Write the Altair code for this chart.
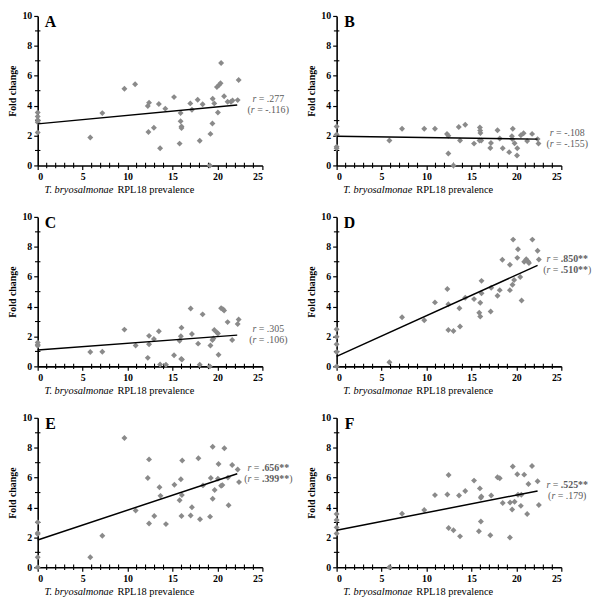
import altair as alt
import pandas as pd

FONT = "'Liberation Serif', 'Times New Roman', 'DejaVu Serif', serif"
PT_COLOR = "#8a8a8a"
TXT_COLOR = "#5c5c5c"

letters = ["A", "B", "C", "D", "E", "F"]

xA = [0, 0, 0, 0, 0, 5.85, 7.19, 9.65, 10.84, 12.25, 12.39, 12.32, 12.93, 13.48, 13.62, 14.2, 15.17, 15.79, 15.9, 15.9,
      16.0, 16.0, 16.98, 17.16, 17.8, 18.03, 18.35, 19.22, 19.15, 19.44, 19.47, 19.65, 19.94, 20.05, 20.2, 20.34,
      20.41, 20.74, 21.13, 21.5, 21.68, 22.25, 22.36]
yA = [3.54, 3.28, 3.04, 2.89, 2.20, 1.87, 3.5, 5.13, 5.43, 3.98, 4.2, 2.24, 2.52, 4.11, 1.15, 3.8, 4.57, 1.46, 3.5, 2.96,
      2.61, 2.5, 4.15, 3.72, 4.39, 1.65, 4.09, 2.11, 0, 2.8, 4.46, 4.15, 5.24, 3.54, 5.39, 5.5,
      6.85, 4.63, 4.26, 4.26, 4.35, 4.37, 5.72]

xB = [0, 0, 0, 0, 5.87, 7.28, 9.75, 10.94, 12.28, 12.43, 12.43, 13.0, 13.59, 13.73, 14.31, 15.29, 15.94, 15.97, 16.0,
      15.9, 16.09, 17.1, 17.17, 17.9, 18.15, 18.48, 19.2, 19.6, 19.5, 19.55, 19.8, 20.1, 20.07, 20.5, 20.8, 21.2,
      21.75, 22.36, 22.46]
yB = [2.6, 2.07, 1.25, 1.15, 1.67, 2.46, 2.46, 2.46, 2.11, 1.98, 0.80, 0, 2.57, 1.67, 2.72, 1.46, 2.54, 2.33, 2.17,
      1.67, 1.67, 1.17, 1.5, 2.35, 1.8, 1.15, 0.89, 2.46, 1.96, 1.76, 1.48, 1.15, 0.67, 2.02, 2.15, 1.63,
      2.11, 1.76, 1.46]

xC = [0, 0, 0, 5.85, 7.19, 9.65, 10.9, 12.25, 12.39, 12.39, 12.93, 13.48, 13.62, 14.27, 15.17, 15.79, 15.93, 16.0,
      15.97, 16.05, 17.02, 17.16, 17.85, 18.03, 18.35, 19.15, 19.22, 19.44, 19.55, 19.65, 19.94, 20.05, 20.12,
      20.41, 20.6, 20.74, 21.13, 21.64, 22.25, 22.36]
yC = [1.6, 1.45, 1.38, 0.96, 0.98, 2.46, 1.39, 0.57, 2.04, 1.48, 1.83, 2.35, 0.13, 0.11, 0.74, 1.72, 2.02, 2.59,
      0.5, 0.46, 3.87, 2.17, 1.52, 0.11, 3.48, 0, 1.39, 1.76, 1.87, 2.43, 2.26, 2.2, 0.78,
      3.89, 3.83, 3.74, 2.96, 1.76, 2.83, 3.13]

xD = [0, 0, 0, 0, 0, 5.87, 7.28, 9.75, 10.94, 12.32, 12.43, 12.43, 13.0, 13.66, 13.73, 14.31, 15.29, 15.87, 15.98,
      15.98, 16.12, 16.12, 17.14, 17.2, 17.9, 18.15, 18.44, 19.28, 19.28, 19.57, 19.64, 19.75, 20.1, 20.18, 20.43,
      20.58, 20.87, 21.1, 21.3, 21.4, 21.78, 22.36, 22.5]
yD = [2.48, 1.98, 1.48, 0.96, 0, 0.28, 3.28, 3.09, 4.28, 5.17, 4.15, 2.43, 2.37, 3.89, 2.67, 4.59, 4.5, 3.59, 3.33,
      4.26, 4.89, 5.72, 3.67, 5.26, 4.72, 5.1, 7.13, 6.8, 5.1, 5.46, 8.48, 5.78, 7.26, 7.83, 5.98,
      4.41, 7.0, 7.17, 7.02, 6.91, 8.48, 7.74, 7.15]

xE = [0, 0, 0, 0, 0, 5.85, 7.19, 9.65, 10.9, 12.25, 12.39, 12.39, 12.97, 13.55, 13.66, 14.27, 15.21, 15.79, 15.93,
      16.04, 16.0, 16.08, 17.02, 17.16, 17.88, 18.06, 18.39, 19.18, 19.26, 19.47, 19.47, 19.69, 20.05, 20.12, 20.41,
      20.55, 20.77, 21.17, 21.24, 21.64, 22.25, 22.4]
yE = [3.02, 2.3, 2.22, 0.67, 0, 0.67, 2.11, 8.65, 3.8, 5.98, 7.22, 2.93, 3.43, 5.35, 4.78, 2.89, 5.52, 4.48, 5.89,
      4.83, 3.43, 7.15, 3.46, 4.02, 7.3, 3.22, 5.48, 3.39, 5.98, 8.07, 4.59, 5.17, 5.93, 6.91, 5.46,
      5.5, 7.96, 6.0, 4.15, 6.85, 6.54, 5.7]

xF = [0, 0, 0, 0, 5.87, 7.28, 9.75, 10.94, 12.32, 12.46, 12.46, 13.0, 13.62, 13.73, 14.31, 15.29, 15.83, 15.94, 16.05,
      16.1, 16.05, 17.1, 17.2, 17.9, 18.15, 18.48, 19.28, 19.3, 19.53, 19.6, 19.8, 20.1, 20.18, 20.5, 20.55, 20.87,
      21.2, 21.34, 21.74, 22.36, 22.5]
yF = [3.57, 3.17, 2.67, 2.26, 0, 3.59, 3.83, 4.83, 4.87, 6.17, 2.63, 2.48, 4.8, 2.07, 5.1, 5.8, 2.41, 5.28, 4.65,
      4.74, 3.07, 2.15, 4.8, 6.02, 5.96, 4.3, 2.0, 4.33, 3.87, 6.74, 4.39, 6.22, 4.85, 4.11, 4.85, 6.2,
      3.57, 5.57, 6.78, 5.76, 4.17]

xs_all = [xA, xB, xC, xD, xE, xF]
ys_all = [yA, yB, yC, yD, yE, yF]

line_x_end = [22.2, 22.36, 22.2, 22.36, 22.2, 22.36]
line_y_start = [2.78, 1.96, 1.09, 0.67, 1.83, 2.48]
line_y_end = [4.04, 1.76, 2.09, 6.76, 6.26, 5.11]

r_main = [".277", "-.108", ".305", ".850**", ".656**", ".525**"]
r_partial = ["-.116", "-.155", ".106", ".510**", ".399**", ".179"]

x_ticks = [0, 5, 10, 15, 20, 25]
x_minor = [v for v in range(0, 26) if v % 5]
y_ticks = [0, 2, 4, 6, 8, 10]
y_minor = [1, 3, 5, 7, 9]

W, H = 227, 151
FS = 10
ANN_CX = 233

EM = {"0": .5, "1": .5, "2": .5, "3": .5, "4": .5, "5": .5, "6": .5, "7": .5, "8": .5, "9": .5,
      ".": .25, " ": .25, "=": .564, "(": .333, ")": .333, "-": .333, "*": .5, "r": .389}


def tw(s):
    return sum(EM.get(c, .5) for c in s) * FS


axis_common = dict(labelFont=FONT, labelFontWeight="bold", labelFontSize=10, labelColor="black",
                   domainColor="black", domainWidth=1.6, tickColor="black", tickWidth=1.2,
                   grid=False, labelPadding=2)

x_major = alt.Axis(values=x_ticks, tickSize=4, title=None, orient="bottom", **axis_common)
y_major = alt.Axis(values=y_ticks, tickSize=4, title="Fold change", orient="left", titleFont=FONT,
                   titleFontWeight="bold", titleFontSize=10, titleColor="black", titlePadding=4, **axis_common)

xscale = alt.Scale(domain=[0, 25], nice=False, zero=False)
yscale = alt.Scale(domain=[0, 10], nice=False, zero=False)


def X(field):
    return alt.X(field, scale=xscale, axis=x_major, title=None)


def Y(field):
    return alt.Y(field, scale=yscale, axis=y_major, title="Fold change")


def ann_line(yval, value, paren, dy):
    bold = "**" in value
    pieces = []
    if paren:
        pieces.append(("(", "normal", "normal"))
    pieces.append(("r", "italic", "normal"))
    pieces.append((" = ", "normal", "normal"))
    pieces.append((value, "normal", "bold" if bold else "normal"))
    if paren:
        pieces.append((")", "normal", "normal"))
    total = sum(tw(p[0]) for p in pieces)
    x0 = ANN_CX - total / 2
    df = pd.DataFrame({"y": [yval]})
    out = []
    for txt, style, weight in pieces:
        stripped = txt.strip()
        lead = tw(txt[:len(txt) - len(txt.lstrip())])
        m = alt.Chart(df).mark_text(font=FONT, fontSize=FS, fontStyle=style, fontWeight=weight,
                                    color=TXT_COLOR, align="left", baseline="middle", dy=dy,
                                    text=stripped).encode(
            x=alt.value(x0 + lead),
            y=Y("y:Q"))
        out.append(m)
        x0 += tw(txt)
    return out


def panel(i):
    df = pd.DataFrame({"x": xs_all[i], "y": ys_all[i]})
    pts = alt.Chart(df).mark_point(shape="diamond", filled=True, color=PT_COLOR, size=36, opacity=1).encode(
        x=X("x:Q"), y=Y("y:Q"))
    ldf = pd.DataFrame({"x": [0, line_x_end[i]], "y": [line_y_start[i], line_y_end[i]]})
    line = alt.Chart(ldf).mark_line(color="black", strokeWidth=1.5).encode(x=X("x:Q"), y=Y("y:Q"))
    xm = alt.Chart(pd.DataFrame({"x": x_minor, "y0": [0] * len(x_minor)})).mark_tick(
        color="black", thickness=1.1, size=5.5, orient="vertical", opacity=1).encode(x=X("x:Q"), y=Y("y0:Q"))
    ym = alt.Chart(pd.DataFrame({"y": y_minor, "x0": [0] * len(y_minor)})).mark_tick(
        color="black", thickness=1.1, size=5.5, orient="horizontal", opacity=1).encode(y=Y("y:Q"), x=X("x0:Q"))
    one = pd.DataFrame({"k": [0]})
    letter = alt.Chart(one).mark_text(font=FONT, fontSize=16, fontWeight="bold", color="black",
                                      align="center", baseline="middle", text=letters[i]).encode(
        x=alt.value(13), y=alt.value(6))
    xt1 = alt.Chart(one).mark_text(font=FONT, fontSize=10.5, fontStyle="italic", color="black",
                                   align="right", baseline="middle", text="T. bryosalmonae").encode(
        x=alt.value(W / 2 - 37), y=alt.value(H + 25))
    xt2 = alt.Chart(one).mark_text(font=FONT, fontSize=10.5, color="black",
                                   align="left", baseline="middle", text="RPL18 prevalence").encode(
        x=alt.value(W / 2 - 33), y=alt.value(H + 25))
    anns = ann_line(line_y_end[i], r_main[i], False, -6) + ann_line(line_y_end[i], r_partial[i], True, 5)
    return alt.layer(xm, ym, pts, line, letter, xt1, xt2, *anns).properties(width=W, height=H)


chart = alt.concat(*[panel(i) for i in range(6)], columns=2, spacing={"row": 16, "column": 14}).properties(
    padding=0, background="white"
).configure_view(stroke=None)

chart.save("out.html", embed_options={"renderer": "svg", "actions": False})
